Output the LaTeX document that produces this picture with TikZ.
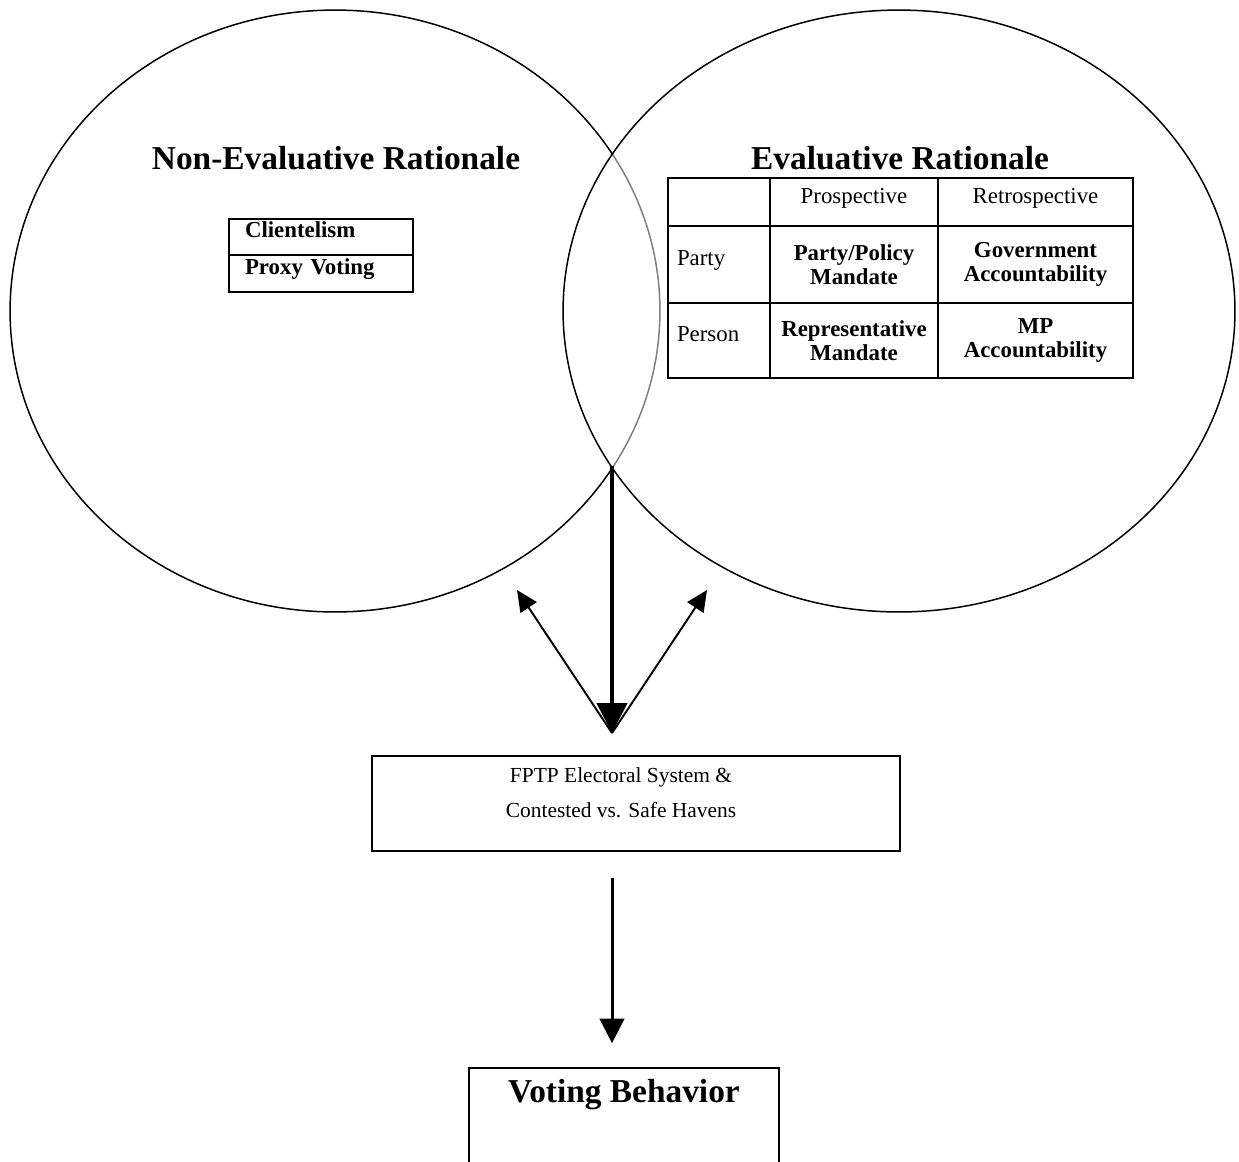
\documentclass[tikz,border=0pt]{standalone}
\usepackage{fontspec}
\setmainfont{Liberation Serif}
\usetikzlibrary{arrows.meta}

\begin{document}
\begin{tikzpicture}
[
	x=0.02cm,y=-0.02cm,
	title/.style={font=\fontsize{19}{22}\selectfont\bfseries},
	cell/.style={draw,line width=1.1pt,inner sep=0pt,align=center,font=\fontsize{13}{13.3}\selectfont},
	bcell/.style={cell,font=\fontsize{13}{13.3}\selectfont\bfseries},
	hcell/.style={cell,text depth=0.24cm},
	rowcell/.style={hcell,align=left,inner xsep=0.18cm,text width=1.68cm},
	listcell/.style={cell,align=left,inner xsep=0.32cm,text width=3.04cm,minimum width=3.68cm,text depth=0.28cm,font=\fontsize{13}{13.3}\selectfont\bfseries},
	box/.style={draw,line width=1.1pt,align=center},
	thin/.style={line width=1.1pt,-{Triangle[width=11pt,length=12pt]}}
]

	\useasboundingbox (0,0) rectangle (1239,1161);

	% circles
	\draw[line width=0.85pt] (335,311) ellipse [x radius=6.5cm,y radius=6.02cm];
	\begin{scope}
		\clip (899,311) ellipse [x radius=6.72cm,y radius=6.02cm];
		\draw[white,line width=2pt] (335,311) ellipse [x radius=6.5cm,y radius=6.02cm];
		\draw[gray,line width=0.85pt] (335,311) ellipse [x radius=6.5cm,y radius=6.02cm];
	\end{scope}
	\draw[line width=0.85pt] (899,311) ellipse [x radius=6.72cm,y radius=6.02cm];

	\node[title] (nonevtitle) at (336,158) {Non-Evaluative Rationale};
	\node[title] (evtitle) at (900,158) {Evaluative Rationale};

	% non-evaluative list
	\node[listcell,minimum height=0.72cm] (client) at (321,237) {Clientelism};
	\node[listcell,minimum height=0.74cm] (proxy) at (321,273.5) {Proxy Voting};

	% evaluative table
	\node[rowcell,minimum height=0.96cm] (corner) at (719,202) {};
	\node[hcell,minimum width=3.36cm,minimum height=0.96cm] (prosp) at (854,202) {Prospective};
	\node[hcell,minimum width=3.9cm,minimum height=0.96cm] (retro) at (1035.5,202) {Retrospective};
	\node[rowcell,minimum height=1.54cm] (party) at (719,264.5) {Party};
	\node[bcell,minimum width=3.36cm,minimum height=1.54cm] (pmandate) at (854,264.5) {Party/Policy\\Mandate};
	\node[bcell,minimum width=3.9cm,minimum height=1.54cm] (gaccount) at (1035.5,264.5) {Government\\Accountability};
	\node[rowcell,minimum height=1.5cm] (person) at (719,340.5) {Person};
	\node[bcell,minimum width=3.36cm,minimum height=1.5cm] (rmandate) at (854,340.5) {Representative\\Mandate};
	\node[bcell,minimum width=3.9cm,minimum height=1.5cm] (mpaccount) at (1035.5,340.5) {MP\\Accountability};

	% arrows
	\coordinate (meet) at (612,466);
	\coordinate (hub) at (612,733);
	\coordinate (leftend) at (517,590);
	\coordinate (rightend) at (707,590);
	\draw[line width=2.8pt,-{Triangle[width=17pt,length=17pt]}] (meet) -- (hub);
	\draw[thin] (hub) -- (leftend);
	\draw[thin] (hub) -- (rightend);

	% lower boxes
	\node[box,minimum width=10.56cm,minimum height=1.9cm,text depth=0.44cm,font=\fontsize{12.2}{20.4}\selectfont] (fptp) at (636,803.5) {FPTP Electoral System \&\hspace*{0.6cm}\\Contested vs. Safe Havens\hspace*{0.6cm}};
	\node[box,minimum width=6.2cm,minimum height=4cm,anchor=north,title] (vote) at (624,1067) {Voting Behavior\\[2.32cm]};
	\draw[line width=1.7pt,-{Triangle[width=14pt,length=14pt]},shorten <=14.7pt,shorten >=13.6pt] (fptp.south -| hub) -- (vote.north -| hub);

\end{tikzpicture}
\end{document}
